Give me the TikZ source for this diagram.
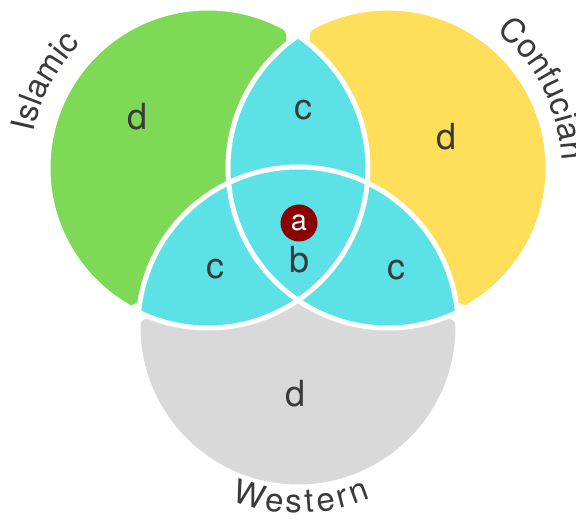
\documentclass[tikz,border=0pt]{standalone}
\usepackage{fontspec}
\setmainfont{TeX Gyre Heros}
\usetikzlibrary{decorations.text}
\definecolor{islamgreen}{HTML}{7ED957}
\definecolor{confyellow}{HTML}{FFDE59}
\definecolor{westgray}{HTML}{D9D9D9}
\definecolor{overlap}{HTML}{5CE1E6}
\definecolor{core}{HTML}{8B0000}
\definecolor{ink}{HTML}{3A3A3A}
\begin{document}
\begin{tikzpicture}[x=1pt,y=1pt,
    zone/.style={fill=#1},
    part/.style={text=ink,font=\fontsize{36}{40}\selectfont},
    ring/.style={draw=white,line width=5pt},
    rim/.style={decorate,decoration={text along path,text align=center,
      text={|\fontsize{33}{36}\selectfont\color{ink}|#1}}}]
\useasboundingbox (0,0) rectangle (576,525);
\coordinate (isl) at (208,357);
\coordinate (con) at (388,357);
\coordinate (wes) at (298,198);
% outer tips where two circles cross
\coordinate (T) at (298,489.29);
\coordinate (L) at (138.68,212.79);
\coordinate (R) at (457.32,212.79);
% outer parts, one set only
\path[zone=islamgreen] ([shift={(isl)}]150:160) arc[start angle=150,end angle=236.33,radius=160]
  [rounded corners=19pt] -- (L) [sharp corners] -- ([shift={(wes)}]166.70:160)
  arc[start angle=166.70,end angle=115.67,radius=160]
  arc[start angle=185.30,end angle=134.23,radius=160]
  [rounded corners=24pt] -- (T) [sharp corners] -- ([shift={(isl)}]65.77:160)
  arc[start angle=65.77,end angle=150,radius=160];
\path[zone=confyellow] ([shift={(con)}]30:160) arc[start angle=30,end angle=-56.33,radius=160]
  [rounded corners=19pt] -- (R) [sharp corners] -- ([shift={(wes)}]13.30:160)
  arc[start angle=13.30,end angle=64.33,radius=160]
  arc[start angle=-5.30,end angle=45.77,radius=160]
  [rounded corners=24pt] -- (T) [sharp corners] -- ([shift={(con)}]114.23:160)
  arc[start angle=114.23,end angle=30,radius=160];
\path[zone=westgray] ([shift={(wes)}]270:160) arc[start angle=270,end angle=357.30,radius=160]
  [rounded corners=19pt] -- (R) [sharp corners] -- ([shift={(con)}]287.67:160)
  arc[start angle=287.67,end angle=235.77,radius=160]
  arc[start angle=304.23,end angle=252.33,radius=160]
  [rounded corners=19pt] -- (L) [sharp corners] -- ([shift={(wes)}]182.70:160)
  arc[start angle=182.70,end angle=270,radius=160];
% overlaps
\path[zone=overlap] ([shift={(isl)}]25:160) arc[start angle=25,end angle=52.77,radius=160]
  [rounded corners=7pt] -- (T) [sharp corners] -- ([shift={(con)}]127.23:160)
  arc[start angle=127.23,end angle=185.30,radius=160]
  arc[start angle=115.67,end angle=64.33,radius=160]
  arc[start angle=-5.30,end angle=25,radius=160];
\path[zone=overlap] ([shift={(isl)}]270:160) arc[start angle=270,end angle=304.23,radius=160]
  arc[start angle=235.77,end angle=185.30,radius=160]
  arc[start angle=115.67,end angle=171.70,radius=160]
  [rounded corners=7pt] -- (L) [sharp corners] -- ([shift={(isl)}]247.33:160)
  arc[start angle=247.33,end angle=270,radius=160];
\path[zone=overlap] ([shift={(con)}]270:160) arc[start angle=270,end angle=235.77,radius=160]
  arc[start angle=304.23,end angle=354.70,radius=160]
  arc[start angle=64.33,end angle=8.30,radius=160]
  [rounded corners=7pt] -- (R) [sharp corners] -- ([shift={(con)}]292.67:160)
  arc[start angle=292.67,end angle=270,radius=160];
\path[zone=overlap] ([shift={(wes)}]90:160) arc[start angle=90,end angle=64.33,radius=160]
  arc[start angle=354.70,end angle=304.23,radius=160]
  arc[start angle=235.77,end angle=185.30,radius=160]
  arc[start angle=115.67,end angle=90,radius=160];
\draw[ring] (isl) circle (160);
\draw[ring] (con) circle (160);
\draw[ring] (wes) circle (160);
% region letters
\node[part] (dIsl) at (138,408) {d};
\node[part] (dCon) at (447,388) {d};
\node[part] (dWes) at (296,131) {d};
\node[part] (cTop) at (303,415) {c};
\node[part] (cLeft) at (215,256) {c};
\node[part] (cRight) at (396,255) {c};
\node[part] (b) at (300,265) {b};
\node[circle,fill=core,minimum size=37pt,inner sep=0pt,text=white,
  font=\fontsize{29}{32}\selectfont] (a) at (299,302) {a};
% set names
\path[shift={(isl)},rim=Islamic] (202:178) arc[start angle=202,end angle=102,radius=178];
\path[shift={(con)},rim=Confucian] (77:174) arc[start angle=77,end angle=-23,radius=174];
\path[shift={(wes)},rim=Western,decoration={text align={fit to path}}]
  (249:186) arc[start angle=249,end angle=293,radius=186];
\end{tikzpicture}
\end{document}
